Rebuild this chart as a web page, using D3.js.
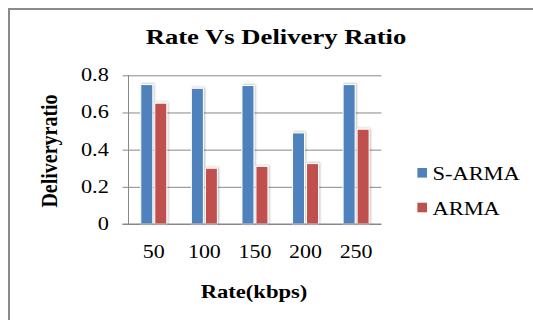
<!DOCTYPE html>
<html>
<head>
<meta charset="utf-8">
<script src="https://cdn.jsdelivr.net/npm/d3@7"></script>
<style>
  html, body { margin: 0; padding: 0; background: #fff; }
  svg { display: block; }
</style>
</head>
<body>
<svg id="chart" width="533" height="320"></svg>
<script>
// Data
const categories = ["50", "100", "150", "200", "250"];
const seriesNames = ["S-ARMA", "ARMA"];
const sArma = [0.75, 0.73, 0.745, 0.49, 0.75];
const arma = [0.65, 0.30, 0.31, 0.325, 0.51];
const yTicks = [0, 0.2, 0.4, 0.6, 0.8];
const colors = ["#4F81BD", "#C0504D"];

const SERIF = '"Liberation Serif"';
const svg = d3.select("#chart");

// Outer frame (runs past the right and bottom edges)
svg.append("rect")
  .attr("x", 9).attr("y", 9).attr("width", 620).attr("height", 400)
  .attr("fill", "none").attr("stroke", "#8a8a8a").attr("stroke-width", 2);

// Soft shadow under bars
const defs = svg.append("defs");
const f = defs.append("filter").attr("id", "barShadow")
  .attr("x", "-50%").attr("y", "-20%").attr("width", "200%").attr("height", "140%");
f.append("feDropShadow").attr("dx", 1).attr("dy", -0.5)
  .attr("stdDeviation", 1.3).attr("flood-color", "#000").attr("flood-opacity", 0.28);

// Place text at (x, y) with a horizontal stretch of the glyphs
const placed = (x, y, sx) => `translate(${x},${y}) scale(${sx},1)`;

const plotLeft = 128.5, plotRight = 381.4, plotTop = 75.3, plotBottom = 224;

const y = d3.scaleLinear().domain([0, 0.8]).range([plotBottom, plotTop]);
const x0 = d3.scaleBand().domain(categories).range([plotLeft, plotRight]);
const x1 = d3.scaleBand().domain(seriesNames).range([-14, 14]);

// Gridlines with outward ticks
const yAxis = d3.axisLeft(y).tickValues(yTicks)
  .tickSize(-(plotRight - plotLeft)).tickSizeOuter(0).tickFormat("");
const gy = svg.append("g").attr("transform", `translate(${plotLeft},0)`).call(yAxis);
gy.select(".domain").remove();
gy.selectAll(".tick text").remove();
gy.selectAll(".tick line").attr("stroke", "#888").attr("x1", -6);

// Tick labels on y
svg.append("g").selectAll("text").data(yTicks).join("text")
  .style("font-family", SERIF)
  .attr("transform", d => placed(108.8, y(d), 1.24))
  .attr("dy", "0.33em")
  .attr("text-anchor", "end").attr("font-size", 18)
  .text(d => d === 0 ? "0" : d3.format(".1f")(d));

// Vertical axis line
svg.append("line")
  .attr("x1", plotLeft).attr("x2", plotLeft).attr("y1", plotTop).attr("y2", plotBottom)
  .attr("stroke", "#888").attr("stroke-width", 1);

// Bars
const rows = categories.map((c, i) => ({ cat: c, vals: [sArma[i], arma[i]] }));
const groups = svg.append("g").selectAll("g").data(rows).join("g")
  .attr("transform", d => `translate(${x0(d.cat) + x0.bandwidth() / 2},0)`);
groups.selectAll("rect")
  .data(d => d.vals.map((v, j) => ({ s: seriesNames[j], v, j })))
  .join("rect")
  .attr("x", d => x1(d.s) + 1)
  .attr("width", x1.bandwidth() - 2)
  .attr("y", d => y(d.v))
  .attr("height", d => plotBottom - y(d.v))
  .attr("fill", d => colors[d.j])
  .attr("stroke", "#fff").attr("stroke-width", 1)
  .attr("filter", "url(#barShadow)");

// Category axis line (drawn above bars)
svg.append("line")
  .attr("x1", plotLeft - 6).attr("x2", plotRight).attr("y1", plotBottom).attr("y2", plotBottom)
  .attr("stroke", "#888").attr("stroke-width", 1);

// Category labels
svg.append("g").selectAll("text").data(categories).join("text")
  .style("font-family", SERIF)
  .attr("transform", d => placed(x0(d) + x0.bandwidth() / 2, 258.3, 1.22))
  .attr("text-anchor", "middle").attr("font-size", 18)
  .text(d => d);

// Title
svg.append("text")
  .style("font-family", SERIF)
  .attr("transform", placed(276, 44.3, 1.3))
  .attr("text-anchor", "middle")
  .attr("font-size", 20.5).attr("font-weight", "bold")
  .text("Rate Vs Delivery Ratio");

// Axis titles
svg.append("text")
  .style("font-family", SERIF)
  .attr("transform", placed(254, 297.5, 1.19))
  .attr("text-anchor", "middle")
  .attr("font-size", 19).attr("font-weight", "bold")
  .text("Rate(kbps)");

svg.append("text")
  .style("font-family", SERIF)
  .attr("transform", "translate(57,151) scale(1.2,1) rotate(-90)")
  .attr("text-anchor", "middle")
  .attr("font-size", 20).attr("font-weight", "bold")
  .text("Deliveryratio");

// Legend
const legend = svg.append("g").selectAll("g").data(seriesNames).join("g")
  .attr("transform", (d, i) => `translate(417.4,${i === 0 ? 168 : 202.7})`);
legend.append("rect")
  .attr("width", 9.6).attr("height", 9.6)
  .attr("fill", (d, i) => colors[i]);
legend.append("text")
  .style("font-family", SERIF)
  .attr("transform", placed(15, 11.8, 1.25))
  .attr("font-size", 18)
  .text(d => d);
</script>
</body>
</html>
